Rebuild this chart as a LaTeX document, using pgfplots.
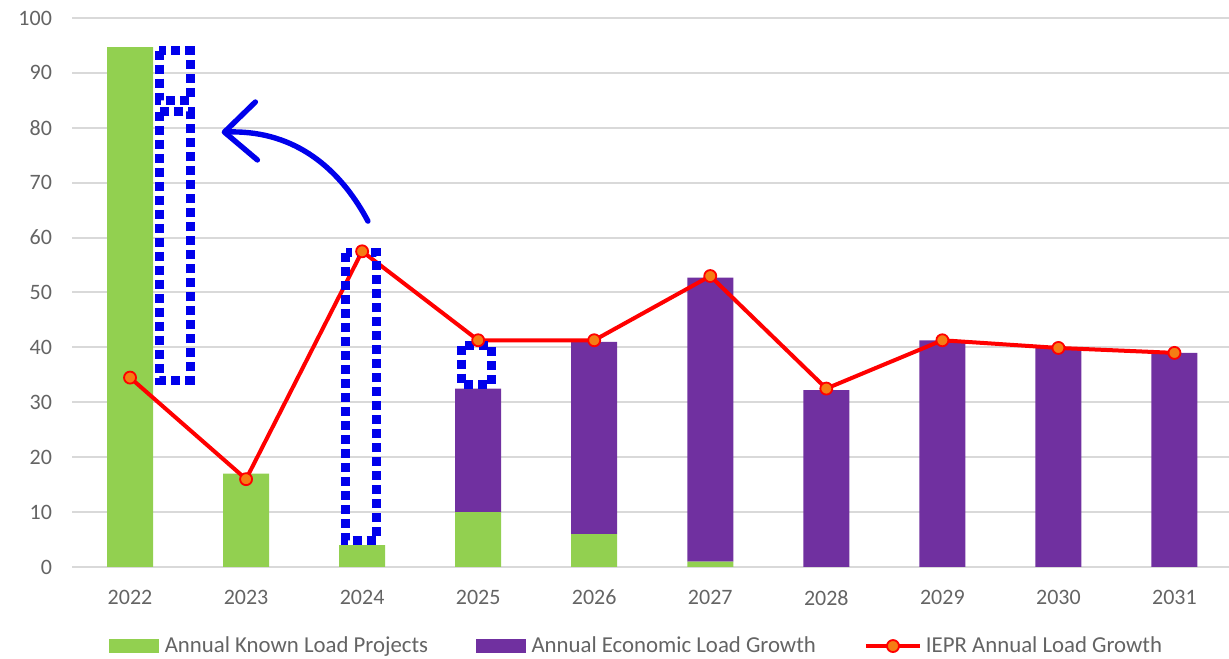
\documentclass[border=0pt]{standalone}
\usepackage{fontspec}
\setmainfont{Carlito}
\usepackage{pgfplots}
\pgfplotsset{compat=1.18}
\usetikzlibrary{arrows.meta}
\definecolor{kgreen}{RGB}{146,208,80}
\definecolor{epurple}{RGB}{112,48,160}
\definecolor{gridc}{RGB}{217,217,217}
\definecolor{txt}{RGB}{100,100,100}
\definecolor{morange}{RGB}{245,125,20}
\definecolor{annblue}{RGB}{0,0,235}
\pgfplotsset{
  greenleg/.style={legend image code/.code={\fill[kgreen] (0pt,-3.25pt) rectangle (24.5pt,3.25pt);\path[draw=none,fill=none] (0pt,0pt) rectangle (25.5pt,0pt);}},
  purpleleg/.style={legend image code/.code={\fill[epurple] (0pt,-3.25pt) rectangle (24.5pt,3.25pt);\path[draw=none,fill=none] (0pt,0pt) rectangle (25.5pt,0pt);}},
  lineleg/.style={legend image code/.code={\draw[##1, mark repeat=2, mark phase=2] plot coordinates {(0pt,0pt) (13.5pt,0pt) (27pt,0pt)};}},
}
\begin{document}
\begin{tikzpicture}
\pgfplotsset{base/.style={
  scale only axis, width=578.5pt, height=274.5pt,
  xmin=-0.5, xmax=9.47, ymin=0, ymax=100,
}}
\begin{axis}[base, name=ax,
  ybar stacked, bar width=23pt,
  axis line style={draw=none},
  major tick length=0pt,
  ytick={0,10,...,100},
  xtick={0,...,9},
  xticklabels={2022,2023,2024,2025,2026,2027,2028,2029,2030,2031},
  ymajorgrids, grid style={gridc, line width=1pt},
  tick label style={font=\fontsize{11}{13}\selectfont, text=txt},
  yticklabel style={xshift=-6.5pt},
  xticklabel style={yshift=-8pt},
  /pgf/number format/assume math mode=true,
]
\addplot[fill=kgreen, draw=none] coordinates {(0,94.7) (1,17) (2,4) (3,10) (4,6) (5,1) (6,0) (7,0) (8,0) (9,0)};
\addplot[fill=epurple, draw=none] coordinates {(0,0) (1,0) (2,0) (3,22.5) (4,35) (5,51.7) (6,32.2) (7,41.3) (8,39.9) (9,39)};
\end{axis}
\begin{axis}[base, hide axis, clip=false,
  legend columns=3,
  legend style={at={(0.489,-0.144)}, anchor=center, draw=none, fill=none,
    font=\fontsize{11.4}{13}\selectfont, text=txt,
    /tikz/every even column/.append style={column sep=22pt}},
]
\addlegendimage{greenleg}
\addlegendentry{Annual Known Load Projects}
\addlegendimage{purpleleg}
\addlegendentry{Annual Economic Load Growth}
\addplot[red, line width=2pt, mark=*, mark size=3pt,
  mark options={fill=morange, draw=red, line width=0.9pt}, lineleg]
  coordinates {(0,34.5) (1,16) (2,57.5) (3,41.3) (4,41.3) (5,53) (6,32.5) (7,41.3) (8,39.9) (9,39)};
\addlegendentry{IEPR Annual Load Growth}
\draw[annblue, line width=4.5pt, dash pattern=on 4.5pt off 2.5pt] (axis cs:0.254,94.05) rectangle (axis cs:0.517,85);
\draw[annblue, line width=4.5pt, dash pattern=on 4.5pt off 2.5pt] (axis cs:0.254,82.9) rectangle (axis cs:0.517,34);
\draw[annblue, line width=4.5pt, dash pattern=on 4.5pt off 2.5pt] (axis cs:1.86,57.2) rectangle (axis cs:2.127,4.9);
\draw[annblue, line width=4.5pt, dash pattern=on 4.5pt off 2.5pt] (axis cs:2.856,40.3) rectangle (axis cs:3.115,33.2);
\draw[annblue, line width=2.7pt, line cap=round, -{Straight Barb[length=16pt,width=29pt,round]}]
  (axis cs:2.05,63) to[out=118,in=2] (axis cs:0.79,79.2);
\end{axis}
\path (ax.south west) ++(-36pt,-46pt) coordinate (bl);
\path (ax.north east) ++(0pt,9pt) coordinate (tr);
\pgfresetboundingbox
\path (bl) rectangle (tr);
\end{tikzpicture}
\end{document}
